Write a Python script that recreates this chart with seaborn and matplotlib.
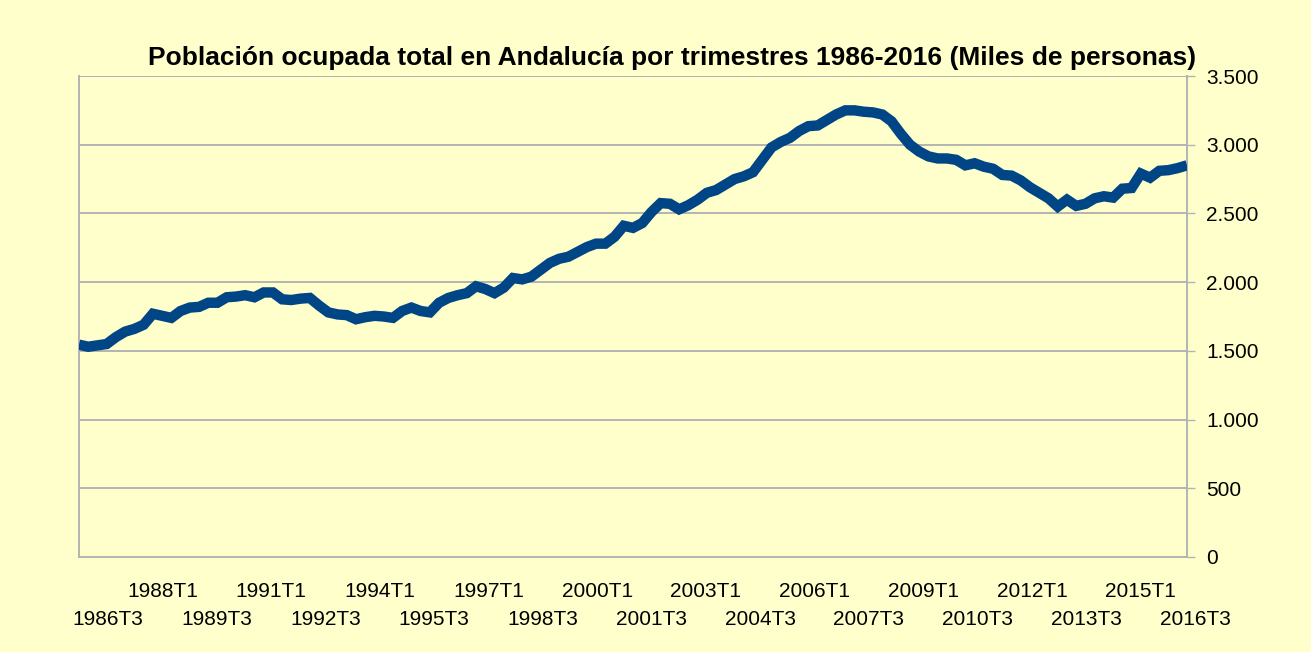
import numpy as np
import pandas as pd
import seaborn as sns
import matplotlib.pyplot as plt
import matplotlib.transforms as mtransforms
from matplotlib.ticker import FuncFormatter, FixedLocator

# quarters 1986T3 .. 2016T3
quarters = []
for year in range(1986, 2017):
    for q in range(1, 5):
        if (year == 1986 and q < 3) or (year == 2016 and q > 3):
            continue
        quarters.append(f"{year}T{q}")

# thousands of people
ocupados = [
    1545, 1530, 1540, 1550, 1600, 1640, 1660, 1690, 1770, 1755,
    1740, 1790, 1815, 1820, 1850, 1850, 1890, 1895, 1905, 1890,
    1925, 1925, 1875, 1870, 1880, 1885, 1830, 1780, 1765, 1760,
    1730, 1745, 1755, 1750, 1740, 1790, 1815, 1790, 1780, 1850,
    1885, 1905, 1920, 1970, 1950, 1920, 1960, 2030, 2020, 2040,
    2090, 2140, 2170, 2185, 2220, 2255, 2280, 2280, 2330, 2410,
    2395, 2430, 2510, 2575, 2570, 2530, 2560, 2600, 2650, 2670,
    2710, 2750, 2770, 2800, 2890, 2980, 3020, 3050, 3100, 3135,
    3140, 3180, 3220, 3250, 3250, 3240, 3235, 3220, 3170, 3080,
    3000, 2950, 2915, 2900, 2900, 2890, 2850, 2865, 2840, 2825,
    2780, 2775, 2740, 2690, 2650, 2610, 2550, 2600, 2555, 2570,
    2610, 2625, 2615, 2680, 2685, 2790, 2760, 2810, 2815, 2830,
    2850,
]

titulo = "Población ocupada total en Andalucía por trimestres 1986-2016 (Miles de personas)"
bg = "#ffffcc"
grid_c = "#b3b3b3"

sns.set_style("white")
plt.rcParams['font.family'] = ['Liberation Sans', 'DejaVu Sans']
plt.rcParams['text.color'] = 'black'
plt.rcParams['xtick.color'] = 'black'
plt.rcParams['ytick.color'] = 'black'

df = pd.DataFrame({"pos": np.arange(len(quarters)), "trimestre": quarters, "miles": ocupados})

fig = plt.figure(figsize=(13.11, 6.52), dpi=100, facecolor=bg)
ax = fig.add_axes([79 / 1311, 1 - 557 / 652, (1187 - 79) / 1311, (557 - 76) / 652])
ax.set_facecolor(bg)

sns.lineplot(data=df, x="pos", y="miles", ax=ax, color="#004586", linewidth=7.5,
             solid_joinstyle="miter", solid_capstyle="butt", zorder=3)

ax.set_xlim(0, len(quarters) - 1)
ax.set_ylim(0, 3500)
ax.set_yticks(np.arange(0, 3501, 500))
ax.yaxis.set_major_formatter(FuncFormatter(lambda v, p: f"{int(v):,}".replace(",", ".")))
ax.yaxis.tick_right()
ax.grid(axis="y", color=grid_c, linewidth=1.4, zorder=1)
ax.set_xlabel("")
ax.set_ylabel("")

# every quarter gets a tick; every 6th a label, alternating upper / lower row
low_pos = [i for i in range(len(quarters)) if i % 12 == 0]
up_pos = [i for i in range(len(quarters)) if i not in low_pos]
ax.xaxis.set_major_locator(FixedLocator(up_pos))
ax.xaxis.set_minor_locator(FixedLocator(low_pos))
ax.set_xticklabels([quarters[i] if i % 6 == 0 else "" for i in up_pos], fontsize=15)
ax.set_xticklabels([quarters[i] for i in low_pos], minor=True, fontsize=15)
ax.tick_params(axis="x", which="major", direction="out", length=6, width=1, color=grid_c, pad=12)
ax.tick_params(axis="x", which="minor", direction="out", length=6, width=1, color=grid_c, pad=32)
ax.tick_params(axis="y", direction="out", length=6, width=1, color=grid_c, pad=8, labelsize=15)

# labels sit a bit right of their ticks in the original
def shift(label, i):
    dx = (29 - 1.05 * (i // 6)) / 100
    label.set_transform(label.get_transform() + mtransforms.ScaledTranslation(dx, 0, fig.dpi_scale_trans))

for i, t in zip(up_pos, ax.get_xticklabels()):
    if i % 6 == 0:
        shift(t, i)
for i, t in zip(low_pos, ax.get_xticklabels(minor=True)):
    shift(t, i)

for s in ["left", "right", "bottom"]:
    ax.spines[s].set_color(grid_c)
    ax.spines[s].set_linewidth(1.4)
ax.spines["top"].set_visible(False)

fig.text(672 / 1311, 1 - 58 / 652, titulo, ha="center", va="center",
         fontsize=19, fontweight="bold", color="black")

fig.savefig("out.png", dpi=100, facecolor=bg)
